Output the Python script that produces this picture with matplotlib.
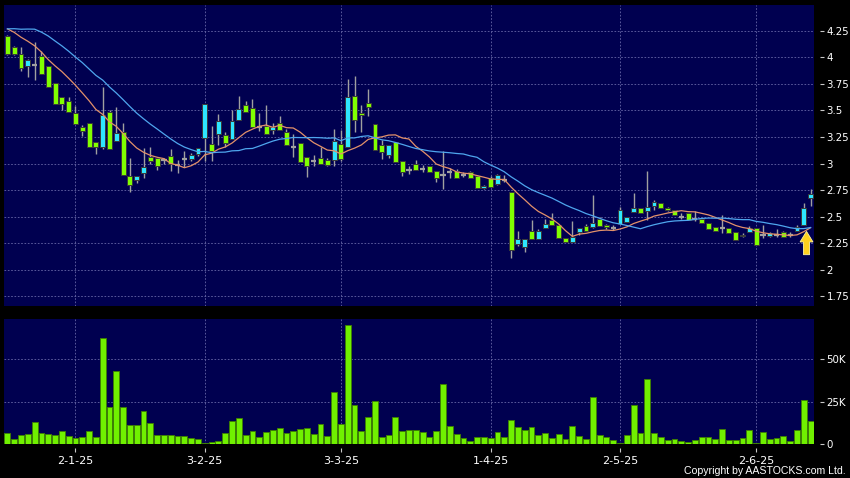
import numpy as np
import pandas as pd
import matplotlib
matplotlib.use("Agg")
import matplotlib.pyplot as plt
from matplotlib.patches import FancyArrow

# daily OHLC, oldest first
opens = [4.20, 4.10, 4.03, 3.92, 3.93, 4.01, 3.92, 3.76, 3.63, 3.59,
         3.48, 3.34, 3.38, 3.20, 3.16, 3.49, 3.21, 3.30, 2.88, 2.84,
         2.91, 3.06, 3.05, 3.03, 3.07, 2.99, 3.04, 3.04, 3.09, 3.24,
         3.18, 3.28, 3.27, 3.23, 3.41, 3.55, 3.52, 3.34, 3.35, 3.32,
         3.38, 3.30, 3.16, 3.19, 3.06, 3.02, 3.05, 3.03, 3.03, 3.18,
         3.16, 3.64, 3.48, 3.57, 3.37, 3.17, 3.08, 3.20, 3.02, 2.94,
         3.00, 2.95, 2.98, 2.93, 2.89, 2.92, 2.93, 2.89, 2.92, 2.88,
         2.77, 2.86, 2.81, 2.84, 2.73, 2.24, 2.21, 2.36, 2.29, 2.39,
         2.47, 2.42, 2.30, 2.26, 2.35, 2.41, 2.40, 2.48, 2.42, 2.39,
         2.43, 2.45, 2.54, 2.58, 2.55, 2.60, 2.63, 2.58, 2.56, 2.50,
         2.53, 2.48, 2.48, 2.44, 2.40, 2.39, 2.39, 2.35, 2.32, 2.35,
         2.39, 2.33, 2.32, 2.33, 2.35, 2.33, 2.36, 2.42, 2.67]
highs = [4.21, 4.11, 4.10, 3.99, 4.15, 4.06, 3.92, 3.76, 3.63, 3.63,
         3.54, 3.36, 3.38, 3.20, 3.72, 3.50, 3.53, 3.38, 3.05, 2.88,
         3.15, 3.16, 3.05, 3.05, 3.14, 3.03, 3.12, 3.10, 3.15, 3.56,
         3.35, 3.47, 3.30, 3.50, 3.64, 3.59, 3.61, 3.48, 3.55, 3.38,
         3.45, 3.33, 3.28, 3.19, 3.06, 3.08, 3.16, 3.05, 3.33, 3.32,
         3.80, 3.83, 3.55, 3.70, 3.37, 3.22, 3.17, 3.20, 3.02, 2.98,
         3.03, 2.99, 2.98, 2.93, 3.12, 2.96, 2.95, 2.92, 2.93, 2.89,
         2.80, 2.88, 2.90, 2.89, 2.73, 2.36, 2.29, 2.47, 2.38, 2.48,
         2.53, 2.42, 2.30, 2.46, 2.39, 2.43, 2.70, 2.50, 2.43, 2.42,
         2.59, 2.50, 2.72, 2.58, 2.93, 2.66, 2.63, 2.59, 2.56, 2.53,
         2.53, 2.55, 2.48, 2.44, 2.40, 2.51, 2.39, 2.35, 2.34, 2.41,
         2.39, 2.42, 2.35, 2.38, 2.36, 2.35, 2.42, 2.63, 2.76]
lows = [4.02, 4.02, 3.87, 3.82, 3.79, 3.84, 3.72, 3.56, 3.50, 3.49,
        3.37, 3.26, 3.16, 3.09, 3.14, 3.14, 3.21, 2.89, 2.73, 2.82,
        2.86, 3.00, 2.94, 3.00, 2.93, 2.91, 2.97, 3.02, 3.07, 3.02,
        3.02, 3.17, 3.16, 3.23, 3.41, 3.49, 3.34, 3.31, 3.28, 3.28,
        3.32, 3.17, 3.06, 3.01, 2.87, 2.98, 3.00, 2.98, 2.98, 3.02,
        3.16, 3.30, 3.30, 3.45, 3.13, 3.04, 3.05, 3.01, 2.88, 2.90,
        2.94, 2.92, 2.92, 2.83, 2.76, 2.86, 2.86, 2.87, 2.86, 2.77,
        2.76, 2.78, 2.80, 2.83, 2.11, 2.22, 2.17, 2.29, 2.29, 2.39,
        2.42, 2.30, 2.26, 2.26, 2.33, 2.36, 2.39, 2.41, 2.38, 2.37,
        2.43, 2.45, 2.54, 2.53, 2.47, 2.56, 2.58, 2.55, 2.51, 2.48,
        2.47, 2.46, 2.44, 2.38, 2.36, 2.34, 2.34, 2.28, 2.31, 2.35,
        2.23, 2.30, 2.31, 2.31, 2.31, 2.31, 2.36, 2.42, 2.60]
closes = [4.03, 4.03, 3.90, 3.98, 3.93, 3.84, 3.72, 3.56, 3.56, 3.49,
          3.37, 3.31, 3.16, 3.16, 3.46, 3.14, 3.29, 2.89, 2.80, 2.88,
          2.97, 3.02, 2.98, 3.03, 3.00, 2.99, 3.04, 3.08, 3.15, 3.56,
          3.12, 3.40, 3.19, 3.40, 3.51, 3.49, 3.34, 3.34, 3.28, 3.34,
          3.32, 3.17, 3.16, 3.01, 2.98, 3.02, 3.00, 2.99, 3.21, 3.04,
          3.63, 3.41, 3.46, 3.53, 3.13, 3.11, 3.17, 3.01, 2.92, 2.94,
          2.94, 2.95, 2.92, 2.86, 2.89, 2.92, 2.86, 2.89, 2.86, 2.77,
          2.79, 2.78, 2.89, 2.84, 2.18, 2.29, 2.29, 2.29, 2.36, 2.43,
          2.42, 2.30, 2.26, 2.31, 2.39, 2.36, 2.44, 2.41, 2.40, 2.39,
          2.56, 2.50, 2.58, 2.53, 2.59, 2.64, 2.58, 2.56, 2.51, 2.50,
          2.47, 2.48, 2.44, 2.38, 2.36, 2.39, 2.34, 2.28, 2.33, 2.39,
          2.23, 2.33, 2.34, 2.33, 2.31, 2.33, 2.40, 2.58, 2.71]
# volume in thousands
volume_k = [6.5, 3.1, 5.3, 6.1, 12.8, 6.3, 5.7, 5.3, 7.9, 4.7,
            3.7, 4.3, 7.7, 4.1, 62.4, 22.0, 42.9, 21.9, 11.4, 11.2,
            19.3, 12.2, 5.1, 5.5, 5.3, 4.7, 4.9, 3.7, 3.1, 0.3,
            1.2, 1.8, 6.7, 13.4, 15.2, 5.3, 7.9, 3.9, 6.9, 8.5,
            9.3, 6.5, 7.5, 9.1, 9.3, 6.1, 11.6, 4.9, 30.7, 11.6,
            69.9, 22.8, 7.5, 15.9, 25.6, 4.1, 5.1, 15.9, 7.9, 8.1,
            8.1, 6.9, 4.4, 7.5, 35.4, 10.4, 5.9, 3.5, 2.0, 4.3,
            4.1, 3.3, 7.3, 3.9, 14.4, 9.8, 8.1, 9.8, 5.1, 6.7,
            3.5, 5.9, 2.8, 10.4, 4.9, 2.8, 27.8, 5.3, 3.9, 2.6,
            0.4, 5.3, 23.0, 6.3, 38.2, 6.5, 4.1, 2.2, 3.0, 1.8,
            1.2, 2.6, 3.9, 3.9, 3.1, 8.7, 2.6, 2.6, 3.5, 8.3,
            0.4, 7.1, 2.9, 3.3, 4.5, 2.0, 8.3, 25.8, 13.8]
# closes before the first visible day, only feed the moving averages
prior_closes = [4.00, 4.00, 3.95, 3.95, 4.40, 4.45, 4.50, 4.48, 4.50, 4.47,
                4.36, 4.36, 4.36, 4.36, 4.43, 4.43, 4.15, 4.10, 4.12]

date_ticks = [10, 29, 49, 71, 90, 110]
date_labels = ["2-1-25", "3-2-25", "3-3-25", "1-4-25", "2-5-25", "2-6-25"]
price_ticks = [1.75, 2.0, 2.25, 2.5, 2.75, 3.0, 3.25, 3.5, 3.75, 4.0, 4.25]
price_labels = ["1.75", "2", "2.25", "2.5", "2.75", "3", "3.25", "3.5", "3.75", "4", "4.25"]
vol_ticks = [0, 25, 50]
vol_labels = ["0", "25K", "50K"]
signal_idx = 117

PANEL = "#000050"
UP = "#2ee6ff"
DOWN = "#80ff00"
WICK = "#a0a0a0"
GRID = "#6868a8"

o = np.array(opens)
h = np.array(highs)
l = np.array(lows)
c = np.array(closes)
x = np.arange(len(c))
up = c > o
down = c < o
doji = c == o

s = pd.Series(prior_closes + closes)
ma10 = s.rolling(10).mean().iloc[len(prior_closes):].to_numpy()
ma20 = s.rolling(20).mean().iloc[len(prior_closes):].to_numpy()

W, H = 850, 478
fig = plt.figure(figsize=(8.5, 4.78), dpi=100, facecolor="black")
ax = fig.add_axes([4 / W, 1 - 306 / H, 810 / W, 301 / H])
axv = fig.add_axes([4 / W, 1 - 444 / H, 810 / W, 125 / H], sharex=ax)

for a in (ax, axv):
    a.set_facecolor(PANEL)
    for sp in a.spines.values():
        sp.set_visible(False)
    a.yaxis.tick_right()
    a.spines["right"].set_position(("outward", 4))
    a.tick_params(axis="y", colors="#c8c8c8", labelcolor="white", length=3,
                  width=0.8, pad=2, labelsize=7.4)
    a.grid(True, color=GRID, lw=0.6, ls=(0, (2, 2)))
    a.set_axisbelow(True)

# candles
ax.vlines(x, l, h, color=WICK, lw=1, zorder=2)
ax.bar(x[up], (c - o)[up], bottom=o[up], width=0.72, color=UP,
       edgecolor="#3a3a3a", lw=0.7, zorder=3)
ax.bar(x[down], (o - c)[down], bottom=c[down], width=0.72, color=DOWN,
       edgecolor="#3a3a3a", lw=0.7, zorder=3)
ax.hlines(c[doji], x[doji] - 0.38, x[doji] + 0.38, color=WICK, lw=1.6, zorder=3)

ax.plot(x, ma10, color="#e3916a", lw=0.9, zorder=4)
ax.plot(x, ma20, color="#4fa6ee", lw=0.9, zorder=4)

# signal arrow under the candle
ax.add_patch(FancyArrow(signal_idx + 0.4, l[signal_idx] - 0.28, 0, 0.22,
                        width=0.9, head_width=1.9, head_length=0.1,
                        length_includes_head=True, fc="#ffd21f",
                        ec="#fff3a0", lw=0.6, zorder=5))

ax.set_xlim(-0.5, len(c) - 0.5)
ax.set_ylim(1.656, 4.495)
ax.set_yticks(price_ticks)
ax.set_yticklabels(price_labels)
ax.tick_params(axis="x", bottom=False, labelbottom=False)

# volume
axv.bar(x, volume_k, width=0.86, color="#70f000", edgecolor="#3f8000",
        lw=0.6, zorder=3)
axv.set_ylim(0, 73.6)
axv.set_yticks(vol_ticks)
axv.set_yticklabels(vol_labels)
axv.set_xticks(date_ticks)
axv.set_xticklabels(date_labels)
axv.spines["bottom"].set_position(("outward", 3))
axv.tick_params(axis="x", colors="#c8c8c8", labelcolor="white", length=3,
                width=0.8, pad=3, labelsize=8)

fig.text(846 / W, 1 - 471 / H, "Copyright by AASTOCKS.com Ltd.", color="white",
         fontsize=7.6, family="Liberation Sans", ha="right", va="center")

fig.savefig("out.png", dpi=100, facecolor="black")
